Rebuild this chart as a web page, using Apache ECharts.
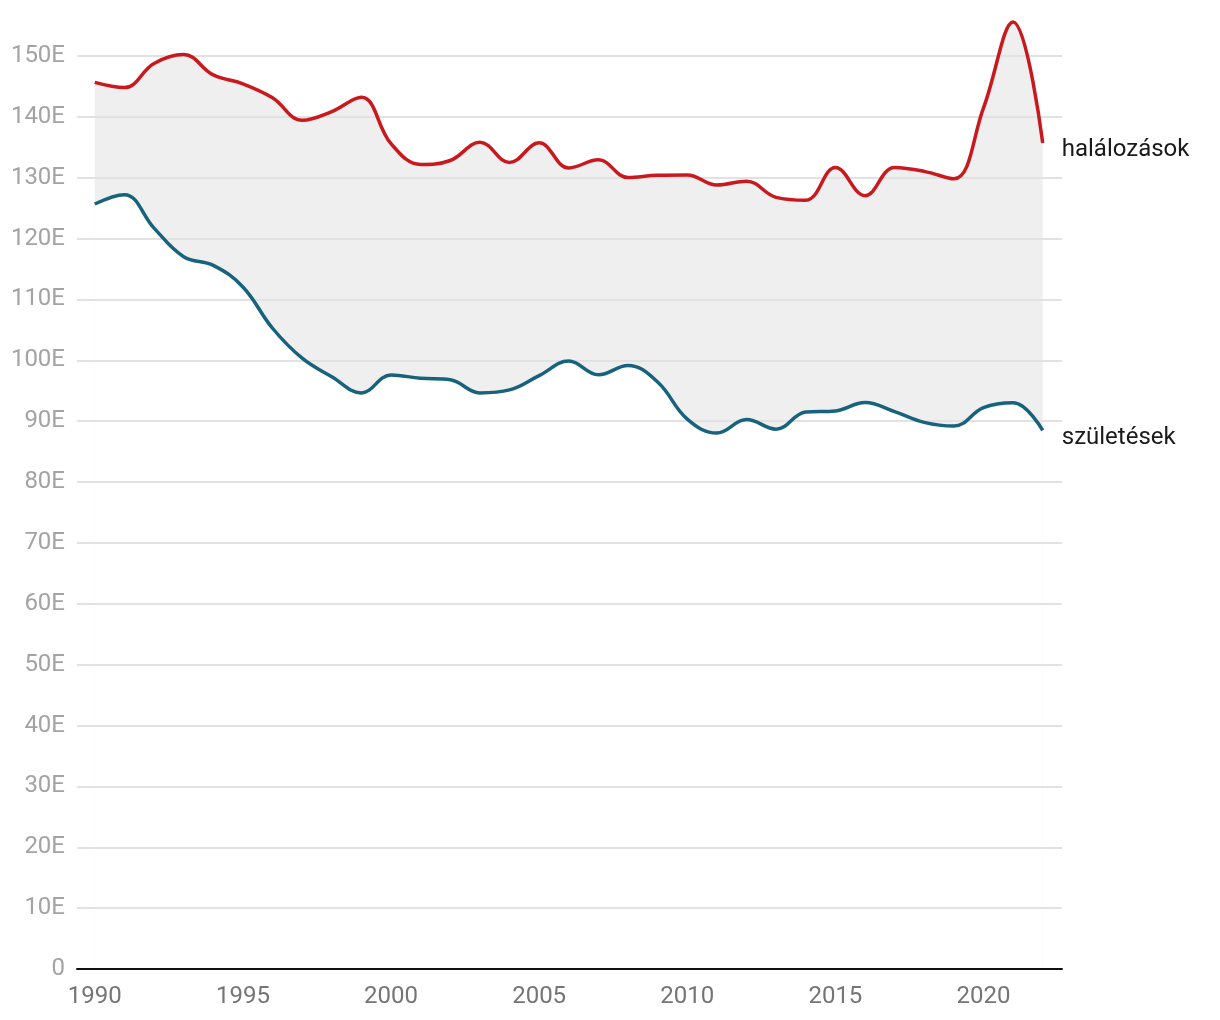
<!DOCTYPE html>
<html>
<head>
<meta charset="utf-8">
<script src="https://cdn.jsdelivr.net/npm/echarts@6/dist/echarts.min.js"></script>
<style>
html,body{margin:0;padding:0;background:#fff;}
#chart{width:1220px;height:1020px;}
</style>
</head>
<body>
<div id="chart"></div>
<script>
const years = [1990,1991,1992,1993,1994,1995,1996,1997,1998,1999,2000,2001,2002,2003,2004,2005,2006,2007,2008,2009,2010,2011,2012,2013,2014,2015,2016,2017,2018,2019,2020,2021,2022];
const deaths = [145660,144813,148781,150244,146889,145431,143130,139434,140870,143210,135601,132183,132833,135823,132492,135732,131603,132938,130027,130414,130456,128795,129440,126778,126308,131697,127053,131674,131045,129819,141479,155600,135700];
const births = [125679,127207,121724,117033,115598,112054,105272,100350,97301,94645,97597,97047,96804,94647,95137,97496,99871,97613,99149,96442,90335,88049,90269,88689,91510,91690,93063,91577,89807,89193,92233,93039,88491];
const xTicks = [1990,1995,2000,2005,2010,2015,2020];
const deathsName = 'halálozások';
const birthsName = 'születések';

const pair = (a) => years.map((y,i)=>[y,a[i]]);

const chart = echarts.init(document.getElementById('chart'));
const FONT = 'Roboto';
const SMOOTH = 0.4;
chart.setOption({
  animation:false,
  textStyle:{fontFamily:FONT},
  grid:{left:77,right:158,top:56,bottom:51,containLabel:false},
  xAxis:{
    type:'value',min:1989.4,max:2022.65,z:2,
    axisLine:{show:true,lineStyle:{color:'#111',width:2}},
    axisTick:{show:false},
    splitLine:{show:false},
    axisLabel:{customValues:xTicks,color:'#757575',fontSize:24,margin:16,fontFamily:FONT,formatter:v=>String(v)}
  },
  yAxis:{
    type:'value',min:0,max:150000,interval:10000,z:2,
    axisLine:{show:false},axisTick:{show:false},
    splitLine:{lineStyle:{color:'#e2e2e2',width:2}},
    axisLabel:{color:'#a3a3a3',fontSize:24,margin:12,fontFamily:FONT,formatter:v=>v===0?'0':(v/1000)+'E'}
  },
  series:[
    {type:'line',name:'bandTop',data:pair(deaths),smooth:SMOOTH,symbol:'none',lineStyle:{width:0,opacity:0},areaStyle:{color:'#efefef',opacity:1},silent:true,clip:false,z:1},
    {type:'line',name:'bandBottom',data:pair(births),smooth:SMOOTH,symbol:'none',lineStyle:{width:0,opacity:0},areaStyle:{color:'#ffffff',opacity:1},silent:true,clip:false,z:1},
    {type:'line',name:deathsName,data:pair(deaths),smooth:SMOOTH,symbol:'none',clip:false,z:3,
      lineStyle:{color:'#c8191e',width:3.5},
      endLabel:{show:true,formatter:'{a}',color:'#1a1a1a',fontSize:24,fontFamily:FONT,distance:19,offset:[0,7]}},
    {type:'line',name:birthsName,data:pair(births),smooth:SMOOTH,symbol:'none',clip:false,z:3,
      lineStyle:{color:'#17627d',width:3.5},
      endLabel:{show:true,formatter:'{a}',color:'#1a1a1a',fontSize:24,fontFamily:FONT,distance:19,offset:[0,8]}}
  ]
});
</script>
</body>
</html>
